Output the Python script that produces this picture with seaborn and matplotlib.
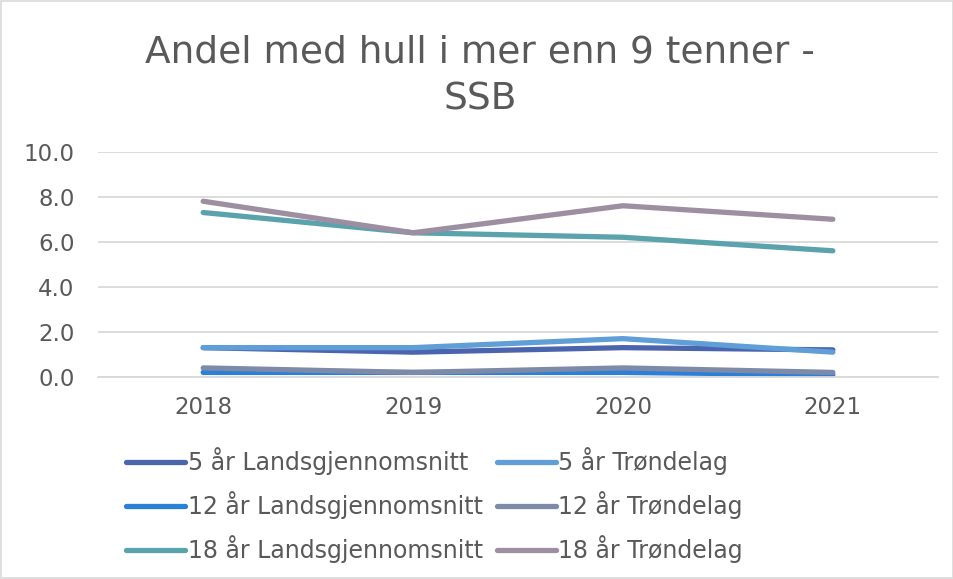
import pandas as pd
import matplotlib.pyplot as plt
import seaborn as sb

years = ["2018", "2019", "2020", "2021"]
series_names = [
    "5 år Landsgjennomsnitt", "5 år Trøndelag",
    "12 år Landsgjennomsnitt", "12 år Trøndelag",
    "18 år Landsgjennomsnitt", "18 år Trøndelag",
]
lands5 = [1.3, 1.1, 1.3, 1.2]
trond5 = [1.3, 1.3, 1.7, 1.1]
lands12 = [0.2, 0.2, 0.2, 0.1]
trond12 = [0.4, 0.2, 0.4, 0.2]
lands18 = [7.3, 6.4, 6.2, 5.6]
trond18 = [7.8, 6.4, 7.6, 7.0]
colors = ["#4a64ae", "#5f9ed6", "#2a7fd8", "#7d8ba8", "#5aa2ac", "#9d8ea2"]

values = [lands5, trond5, lands12, trond12, lands18, trond18]
rows = []
for name, vals in zip(series_names, values):
    for yr, v in zip(years, vals):
        rows.append({"year": yr, "value": v, "serie": name})
df = pd.DataFrame(rows)

sb.set_style("white")
plt.rcParams["font.family"] = ["DejaVu Sans"]
txt = "#595959"

fig = plt.figure(figsize=(9.54, 5.79), dpi=100)
ax = fig.add_axes([0.103, 0.349, 0.880, 0.389])
sb.lineplot(data=df, x="year", y="value", hue="serie", hue_order=series_names,
            palette=colors, linewidth=3.8, ax=ax, legend=False, sort=False,
            solid_capstyle="round")

ax.set_xlim(-0.5, 3.5)
ax.set_ylim(0, 10)
ax.set_yticks([0, 2, 4, 6, 8, 10])
ax.set_yticklabels([f"{v:.1f}" for v in [0, 2, 4, 6, 8, 10]])
ax.yaxis.grid(True, color="#d9d9d9", linewidth=1.3)
ax.set_axisbelow(True)
for s in ["top", "left", "right"]:
    ax.spines[s].set_visible(False)
ax.spines["bottom"].set_color("#d9d9d9")
ax.spines["bottom"].set_linewidth(1.3)
ax.tick_params(axis="both", length=0, labelsize=16.5, colors=txt)
ax.tick_params(axis="y", pad=17)
ax.tick_params(axis="x", pad=14)
ax.set_xlabel("")
ax.set_ylabel("")

fig.text(0.503, 0.910, "Andel med hull i mer enn 9 tenner -", ha="center", va="center",
         fontsize=27, color=txt)
fig.text(0.503, 0.829, "SSB", ha="center", va="center", fontsize=27, color=txt)

# legend is filled column by column, so put left column first
order = [0, 2, 4, 1, 3, 5]
handles = [plt.Line2D([], [], color=colors[i], linewidth=3.8, solid_capstyle="round") for i in order]
labels = [series_names[i] for i in order]
fig.legend(handles, labels, loc="upper left", bbox_to_anchor=(0.1325, 0.228),
           ncol=2, frameon=False, fontsize=17, labelcolor=txt,
           handlelength=2.5, handletextpad=0.1, columnspacing=0.6,
           labelspacing=0.68, borderaxespad=0, borderpad=0)

border = plt.Rectangle((0.001, 0.001), 0.998, 0.998, transform=fig.transFigure,
                       fill=False, edgecolor="#d9d9d9", linewidth=1.2)
fig.patches.append(border)

fig.savefig("out.png", dpi=100)
